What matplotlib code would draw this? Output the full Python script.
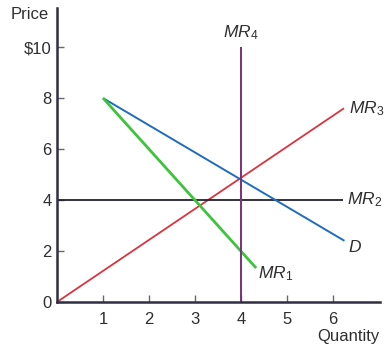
import matplotlib
matplotlib.use('Agg')
import matplotlib.pyplot as plt

plt.rcParams['font.family'] = ['Liberation Sans', 'DejaVu Sans']
plt.rcParams['mathtext.fontset'] = 'custom'
plt.rcParams['mathtext.rm'] = 'Liberation Sans'
plt.rcParams['mathtext.it'] = 'Liberation Sans:italic'

# data
d_q = [1, 6.25]
d_p = [8, 2.4]
mr1_q = [1, 4.33]
mr1_p = [8, 1.33]
mr2_q = [0, 6.22]
mr2_p = [4, 4]
mr3_q = [0, 6.24]
mr3_p = [0, 7.6]
mr4_q = [4, 4]
mr4_p = [0, 10]

yticks = [0, 2, 4, 6, 8, 10]
ylabels = ['0', '2', '4', '6', '8', '$10']
xticks = [1, 2, 3, 4, 5, 6]

axis_col = '#2e2e42'
txt_col = '#2f2f2f'

fig = plt.figure(figsize=(3.88, 3.54), dpi=100)
ax = fig.add_axes([0.147, 0.147, 0.832, 0.830])

ax.plot(mr3_q, mr3_p, color='#d9343f', lw=1.3, solid_capstyle='butt')
ax.plot(mr2_q, mr2_p, color='#22222e', lw=1.3, solid_capstyle='butt')
ax.plot(d_q, d_p, color='#1f6cbf', lw=1.4, solid_capstyle='butt')
ax.plot(mr1_q, mr1_p, color='#3cc43c', lw=2.0, solid_capstyle='butt')
ax.plot(mr4_q, mr4_p, color='#7e2d80', lw=1.4, solid_capstyle='butt')

lab = dict(fontsize=12.5, color=txt_col)
ax.text(4, 10.2, r'$\mathit{MR}_4$', ha='center', va='bottom', **lab)
ax.text(6.35, 7.6, r'$\mathit{MR}_3$', ha='left', va='center', **lab)
ax.text(6.3, 4.0, r'$\mathit{MR}_2$', ha='left', va='center', **lab)
ax.text(6.33, 2.15, r'$\mathit{D}$', ha='left', va='center', **lab)
ax.text(4.38, 1.1, r'$\mathit{MR}_1$', ha='left', va='center', **lab)

ax.set_xlim(0, 7.02)
ax.set_ylim(0, 11.53)
ax.set_xticks(xticks)
ax.set_yticks(yticks)
ax.set_yticklabels(ylabels)
ax.tick_params(direction='in', length=5, width=1, color='#666677',
               labelsize=12, labelcolor=txt_col)
ax.tick_params(axis='y', pad=4)
ax.tick_params(axis='x', pad=7)
for s in ['top', 'right']:
    ax.spines[s].set_visible(False)
for s in ['left', 'bottom']:
    ax.spines[s].set_color(axis_col)
    ax.spines[s].set_linewidth(1.8)

fig.text(0.028, 0.96, 'Price', fontsize=12, color=txt_col, ha='left', va='center')
fig.text(0.978, 0.05, 'Quantity', fontsize=12, color=txt_col, ha='right', va='center')

fig.savefig('out.png', dpi=100)
